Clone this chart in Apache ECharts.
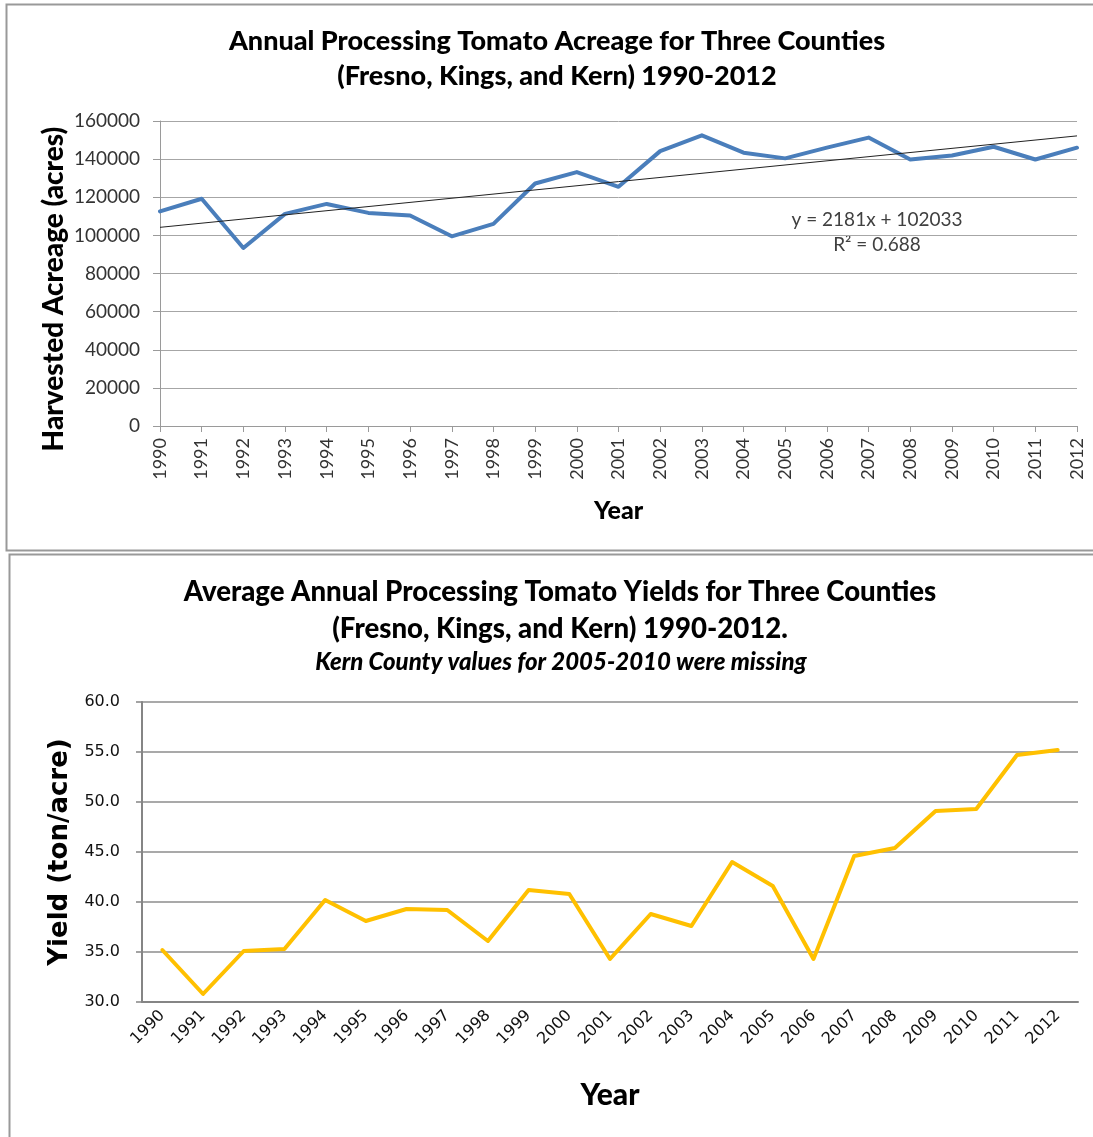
<!DOCTYPE html>
<html><head><meta charset="utf-8">
<script src="https://cdn.jsdelivr.net/npm/echarts@6/dist/echarts.min.js"></script>
<style>html,body{margin:0;padding:0;background:#fff}#c{width:1093px;height:1137px}</style>
</head><body><div id="c"></div><script>
const years = ['1990','1991','1992','1993','1994','1995','1996','1997','1998','1999','2000','2001','2002','2003','2004','2005','2006','2007','2008','2009','2010','2011','2012'];
const acreage = [112600,119200,93400,111300,116500,111800,110400,99500,106000,127200,133200,125500,144200,152500,143400,140400,146000,151300,139800,141900,146500,139800,146000];
const yields = [35.2,30.8,35.1,35.3,40.2,38.1,39.3,39.2,36.1,41.2,40.8,34.3,38.8,37.6,44.0,41.6,34.3,44.6,45.4,49.1,49.3,54.7,55.2];
const trendSlope = 2181, trendIntercept = 102033;
const trendText = ['y = 2181x + 102033', 'R² = 0.688'];
const acreageAxis = {min: 0, max: 160000, interval: 20000};
const yieldAxis = {min: 30, max: 60, interval: 5};
const titleTop = 'Annual Processing Tomato Acreage for Three Counties\n(Fresno, Kings, and Kern) 1990-2012';
const titleBottom = 'Average Annual Processing Tomato Yields for Three Counties\n(Fresno, Kings, and Kern) 1990-2012.';
const subtitleBottom = 'Kern County values for 2005-2010 were missing';
const acreageAxisTitle = 'Harvested Acreage (acres)';

const trendData = [
  [years[0], trendIntercept + trendSlope * 1],
  [years[years.length - 1], trendIntercept + trendSlope * years.length]
];

const F = 'Lato, "Open Sans", sans-serif';
const D = '"DejaVu Sans", sans-serif';
const chart = echarts.init(document.getElementById('c'), null, {renderer: 'canvas'});
chart.setOption({
  animation: false,
  backgroundColor: '#fff',
  title: [
    {text: titleTop, left: 552, top: 19, textAlign: 'center',
     textStyle: {fontFamily: F, fontSize: 27, fontWeight: 900, color: '#000', lineHeight: 35}},
    {text: titleBottom, left: 555, top: 569, textAlign: 'center',
     textStyle: {fontFamily: F, fontSize: 27.6, fontWeight: 900, color: '#000', lineHeight: 37}},
    {text: subtitleBottom, left: 556, top: 645, textAlign: 'center',
     textStyle: {fontFamily: F, fontSize: 24, fontWeight: 900, fontStyle: 'italic', color: '#000'}}
  ],
  grid: [
    {left: 160, right: 16, top: 121, height: 305, containLabel: false, outerBoundsMode: 'none'},
    {left: 142, right: 15, top: 702, height: 300, containLabel: false, outerBoundsMode: 'none'}
  ],
  xAxis: [
    {type: 'category', gridIndex: 0, data: years, boundaryGap: false,
     axisLine: {lineStyle: {color: '#9a9a9a', width: 1}},
     axisTick: {show: true, length: 6, alignWithLabel: true, lineStyle: {color: '#9a9a9a'}},
     axisLabel: {rotate: 90, interval: 0, margin: 12, fontFamily: F, fontSize: 18, color: '#333'},
     name: 'Year', nameLocation: 'middle', nameGap: 72,
     nameTextStyle: {fontFamily: F, fontSize: 25, fontWeight: 900, color: '#000'}},
    {type: 'category', gridIndex: 1, data: years, boundaryGap: true,
     axisLine: {lineStyle: {color: '#858585', width: 2}},
     axisTick: {show: false},
     axisLabel: {rotate: 45, interval: 0, margin: 11, fontFamily: D, fontSize: 16, color: '#111'},
     name: 'Year', nameLocation: 'middle', nameGap: 78,
     nameTextStyle: {fontFamily: F, fontSize: 30, fontWeight: 900, color: '#000'}}
  ],
  yAxis: [
    {type: 'value', gridIndex: 0, min: acreageAxis.min, max: acreageAxis.max, interval: acreageAxis.interval,
     axisLine: {show: true, lineStyle: {color: '#9a9a9a', width: 1}},
     axisTick: {show: true, length: 7, lineStyle: {color: '#9a9a9a'}},
     splitLine: {lineStyle: {color: '#a6a6a6', width: 1}},
     axisLabel: {margin: 20, fontFamily: F, fontSize: 19, color: '#333', formatter: v => String(v)}},
    {type: 'value', gridIndex: 1, min: yieldAxis.min, max: yieldAxis.max, interval: yieldAxis.interval,
     axisLine: {show: true, lineStyle: {color: '#858585', width: 2}},
     axisTick: {show: true, length: 6, lineStyle: {color: '#858585', width: 1.5}},
     splitLine: {lineStyle: {color: '#8c8c8c', width: 1.5}},
     axisLabel: {margin: 22, fontFamily: D, fontSize: 16, color: '#111',
                 formatter: v => v.toFixed(1)},
     name: 'Yield (ton/acre)', nameLocation: 'middle', nameRotate: 90, nameGap: 65,
     nameTextStyle: {fontFamily: D, fontSize: 26, fontWeight: 'bold', color: '#000'}}
  ],
  series: [
    {type: 'line', xAxisIndex: 0, yAxisIndex: 0, data: acreage, showSymbol: false,
     lineStyle: {color: '#4A7EBB', width: 4, join: 'round', cap: 'round'}, z: 3},
    {type: 'line', xAxisIndex: 0, yAxisIndex: 0, data: trendData, showSymbol: false,
     lineStyle: {color: '#222', width: 1}, z: 4},
    {type: 'line', xAxisIndex: 1, yAxisIndex: 1, data: yields, showSymbol: false,
     lineStyle: {color: '#FFC000', width: 4, join: 'round', cap: 'round'}, z: 3}
  ],
  graphic: [
    {type: 'rect', shape: {x: 6.5, y: 4.5, width: 1200, height: 546}, silent: true,
     style: {fill: null, stroke: '#999', lineWidth: 2}, z: -1},
    {type: 'rect', shape: {x: 9.5, y: 554.5, width: 1200, height: 700}, silent: true,
     style: {fill: null, stroke: '#999', lineWidth: 2}, z: -1},
    {type: 'text', x: 54, y: 289, rotation: Math.PI / 2, silent: true,
     style: {text: acreageAxisTitle, textAlign: 'center', textVerticalAlign: 'middle',
             font: '900 28px ' + F, fill: '#000'}},
    {type: 'text', x: 877, y: 220, silent: true,
     style: {text: trendText[0], textAlign: 'center', textVerticalAlign: 'middle', font: '19px ' + F, fill: '#404040'}},
    {type: 'text', x: 877, y: 245, silent: true,
     style: {text: trendText[1], textAlign: 'center', textVerticalAlign: 'middle', font: '19px ' + F, fill: '#404040'}}
  ]
});
</script></body></html>
